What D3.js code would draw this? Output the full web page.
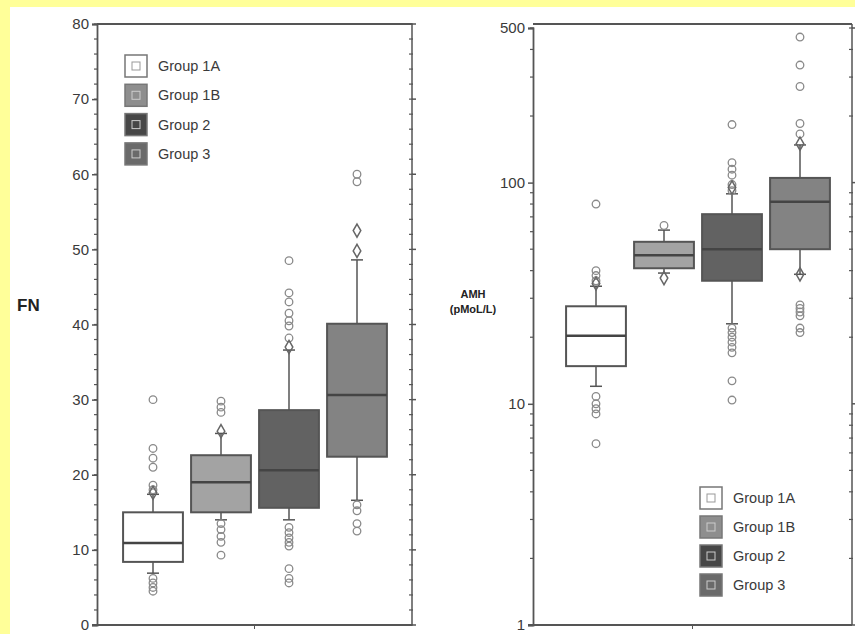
<!DOCTYPE html>
<html>
<head>
<meta charset="utf-8">
<script src="https://cdn.jsdelivr.net/npm/d3@7"></script>
<style>
  body { margin: 0; background: #ffff99; }
  svg { display: block; }
  text { font-family: "Liberation Sans", Arial, sans-serif; }
</style>
</head>
<body>
<svg id="chart" width="855" height="634"></svg>
<script>
// groups and their fills
var groups = ["Group 1A", "Group 1B", "Group 2", "Group 3"];
var fills = ["#ffffff", "#a3a3a3", "#626262", "#838383"];
var legendFills = ["#ffffff", "#8e8e8e", "#474747", "#6a6a6a"];

// FN panel (linear)
var fnTicks = [0, 10, 20, 30, 40, 50, 60, 70, 80];
var fnQ1 = [8.4, 15, 15.6, 22.4];
var fnMedian = [10.9, 19, 20.6, 30.6];
var fnQ3 = [15, 22.6, 28.6, 40.1];
var fnLow = [6.9, 14, 14, 16.6];
var fnHigh = [17.4, 25.5, 36.6, 48.6];
var fnOutCircles = [
    [30, 23.5, 22.2, 21, 18.6, 18, 6.2, 5.6, 5, 4.5],
    [29.8, 29, 28.3, 13.5, 12.7, 11.8, 11, 9.3],
    [48.5, 44.2, 43, 41.5, 40.5, 39.8, 38.2, 13, 12.3, 11.6, 11, 10.5, 7.5, 6.2, 5.6],
    [60, 59, 16, 15.2, 13.5, 12.5]
];
var fnOutDiamonds = [[17.6], [25.8], [37], [52.5, 49.8]];

// AMH panel (log)
var amhTicks = [1, 10, 100, 500];
var amhQ1 = [14.8, 41, 36, 50];
var amhMedian = [20.3, 47, 50, 82];
var amhQ3 = [27.6, 54, 72, 105];
var amhLow = [12, 39, 23, 38.5];
var amhHigh = [34, 61, 89, 148];
var amhOutCircles = [
    [36, 38, 40, 80, 10.8, 10, 9.5, 9, 6.6],
    [64],
    [92, 98, 108, 115, 123, 183, 22, 21, 20, 19, 18, 17, 12.7, 10.4],
    [166, 185, 272, 340, 455, 28, 27, 26, 25, 22, 21]
];
var amhOutDiamonds = [[35], [37], [95], [150, 38.5]];

var svg = d3.select('#chart');
var axisColor = '#555',
    textColor = '#3a3a3a';

// white page over the yellow
svg.append('rect').attr('x', 10).attr('y', 7).attr('width', 845).attr('height', 627).attr('fill', '#fff');

/**
 * Draw one panel of box plots
 */
function drawPanel(opt) {
    var g = svg.append('g');
    var x = d3.scaleBand().domain(groups).range(opt.xRange).paddingInner(0.12).paddingOuter(0.06);
    var y = opt.y;
    var bw = x.bandwidth();

    // frame
    g.append('line').attr('x1', opt.left).attr('x2', opt.right).attr('y1', opt.top).attr('y2', opt.top)
        .attr('stroke', axisColor).attr('stroke-width', 2);
    g.append('line').attr('x1', opt.left - 5).attr('x2', opt.right).attr('y1', opt.bottom).attr('y2', opt.bottom)
        .attr('stroke', axisColor).attr('stroke-width', 2);
    g.append('line').attr('x1', opt.right).attr('x2', opt.right).attr('y1', opt.top).attr('y2', opt.bottom)
        .attr('stroke', axisColor).attr('stroke-width', 1.5);
    g.append('line').attr('x1', (opt.left + opt.right) / 2).attr('x2', (opt.left + opt.right) / 2)
        .attr('y1', opt.bottom).attr('y2', opt.bottom + 4).attr('stroke', axisColor);

    // left axis
    var ax = g.append('g').attr('transform', 'translate(' + opt.left + ',0)')
        .call(d3.axisLeft(y).tickValues(opt.ticks).tickFormat(d3.format('d')).tickSize(5).tickPadding(3));
    ax.select('.domain').attr('stroke', axisColor).attr('stroke-width', 1.8);
    ax.selectAll('.tick line').attr('stroke', axisColor).attr('stroke-width', 1.5);
    ax.selectAll('.tick text').attr('fill', textColor).attr('font-size', 15);

    // minor ticks on both sides
    [opt.left, opt.right].forEach(function(px) {
        g.selectAll(null).data(opt.minor).enter().append('line')
            .attr('x1', px - 3).attr('x2', px + 1)
            .attr('y1', function(d) { return y(d); }).attr('y2', function(d) { return y(d); })
            .attr('stroke', axisColor).attr('stroke-width', 1.2);
    });
    g.selectAll(null).data(opt.ticks).enter().append('line')
        .attr('x1', opt.right).attr('x2', opt.right + 4)
        .attr('y1', function(d) { return y(d); }).attr('y2', function(d) { return y(d); })
        .attr('stroke', axisColor).attr('stroke-width', 1.5);

    groups.forEach(function(grp, i) {
        var x0 = x(grp), cx = x0 + bw / 2;
        // whiskers
        g.append('line').attr('x1', cx).attr('x2', cx).attr('y1', y(opt.q3[i])).attr('y2', y(opt.high[i]))
            .attr('stroke', '#555').attr('stroke-width', 1.5);
        g.append('line').attr('x1', cx).attr('x2', cx).attr('y1', y(opt.q1[i])).attr('y2', y(opt.low[i]))
            .attr('stroke', '#555').attr('stroke-width', 1.5);
        [opt.high[i], opt.low[i]].forEach(function(v) {
            g.append('line').attr('x1', cx - 6).attr('x2', cx + 6).attr('y1', y(v)).attr('y2', y(v))
                .attr('stroke', '#555').attr('stroke-width', 1.5);
        });
        // box
        g.append('rect').attr('x', x0).attr('width', bw)
            .attr('y', y(opt.q3[i])).attr('height', y(opt.q1[i]) - y(opt.q3[i]))
            .attr('fill', fills[i]).attr('stroke', '#555').attr('stroke-width', 2);
        g.append('line').attr('x1', x0).attr('x2', x0 + bw).attr('y1', y(opt.median[i])).attr('y2', y(opt.median[i]))
            .attr('stroke', '#444').attr('stroke-width', 2.5);
        // outliers
        g.selectAll(null).data(opt.circles[i]).enter().append('circle')
            .attr('cx', cx).attr('cy', function(d) { return y(d); }).attr('r', 3.8)
            .attr('fill', 'none').attr('stroke', '#8a8a8a').attr('stroke-width', 1.3);
        g.selectAll(null).data(opt.diamonds[i]).enter().append('path')
            .attr('d', d3.symbol(d3.symbolDiamond, 50)())
            .attr('transform', function(d) { return 'translate(' + cx + ',' + y(d) + ')'; })
            .attr('fill', 'none').attr('stroke', '#666').attr('stroke-width', 1.5);
    });

    // legend
    var lg = g.append('g');
    groups.forEach(function(grp, i) {
        var ly = opt.legendY + i * opt.legendStep;
        lg.append('rect').attr('x', opt.legendX).attr('y', ly - 11).attr('width', 22).attr('height', 22)
            .attr('fill', legendFills[i]).attr('stroke', '#777').attr('stroke-width', 1.5);
        lg.append('rect').attr('x', opt.legendX + 7).attr('y', ly - 4).attr('width', 8).attr('height', 8)
            .attr('fill', 'none').attr('stroke', i === 0 ? '#999' : '#ccc').attr('stroke-width', 1);
        lg.append('text').attr('x', opt.legendX + 33).attr('y', ly + 5).attr('font-size', 14.5)
            .attr('fill', textColor).text(grp);
    });
}

// FN panel
var yFN = d3.scaleLinear().domain([0, 80]).range([625, 24]);
drawPanel({
    y: yFN, left: 97, right: 412, top: 24, bottom: 625,
    xRange: [119, 391], ticks: fnTicks, minor: d3.range(0, 81, 2),
    q1: fnQ1, median: fnMedian, q3: fnQ3, low: fnLow, high: fnHigh,
    circles: fnOutCircles, diamonds: fnOutDiamonds,
    legendX: 125, legendY: 66, legendStep: 29.3
});
svg.append('text').attr('x', 17).attr('y', 311).attr('font-size', 17).attr('font-weight', 'bold')
    .attr('fill', '#222').text('FN');

// AMH panel
var yAMH = d3.scaleLog().domain([1, 500]).range([625, 28]);
var amhMinor = [];
[1, 10, 100].forEach(function(dec) {
    for (var k = 2; k <= 9; k++) {
        if (dec * k <= 500) amhMinor.push(dec * k);
    }
});
drawPanel({
    y: yAMH, left: 533, right: 852, top: 24, bottom: 625,
    xRange: [562, 834], ticks: amhTicks, minor: amhMinor,
    q1: amhQ1, median: amhMedian, q3: amhQ3, low: amhLow, high: amhHigh,
    circles: amhOutCircles, diamonds: amhOutDiamonds,
    legendX: 700, legendY: 498, legendStep: 29
});
svg.append('text').attr('x', 473).attr('y', 298).attr('font-size', 11).attr('font-weight', 'bold')
    .attr('text-anchor', 'middle').attr('fill', '#222').text('AMH');
svg.append('text').attr('x', 473).attr('y', 313).attr('font-size', 11).attr('font-weight', 'bold')
    .attr('text-anchor', 'middle').attr('fill', '#222').text('(pMoL/L)');
</script>
</body>
</html>
